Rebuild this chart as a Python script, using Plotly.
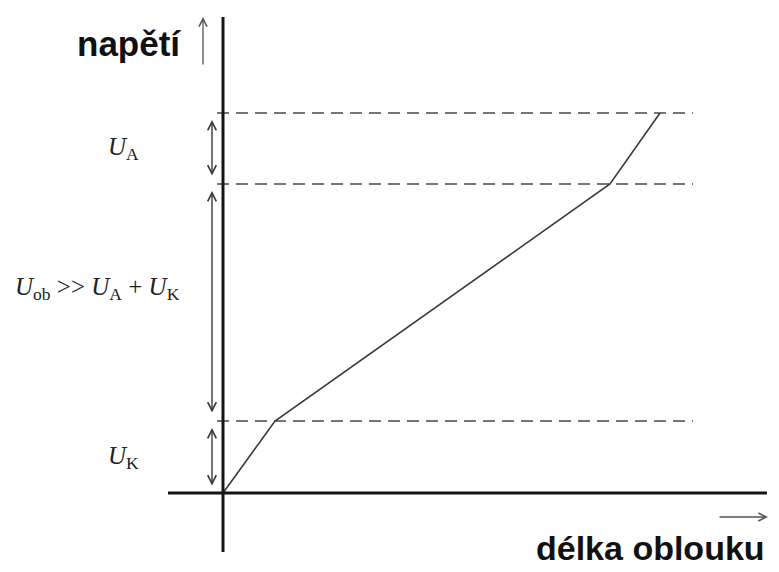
# Arc voltage vs. arc length sketch (napětí / délka oblouku)

import plotly.graph_objects as go

# Chart values, in drawing units (origin at the axis crossing)
arc_length = [0, 52, 387, 437]
voltage = [0, 72, 309, 380]
levels = [72, 309, 380]          # U_K, U_K + U_ob, U_K + U_ob + U_A
level_labels = [
    "<i>U</i><sub>K</sub>",
    "<i>U</i><sub>ob</sub> &gt;&gt; <i>U</i><sub>A</sub> + <i>U</i><sub>K</sub>",
    "<i>U</i><sub>A</sub>",
]
axis_titles = ["napětí", "délka oblouku"]

AXIS_COLOR = "#141414"
LINE_COLOR = "#3a3a3a"
SERIF = "Liberation Serif, Times New Roman, serif"
SANS = "Liberation Sans, Arial, sans-serif"

fig = go.Figure()

# Dashed reference levels
for lev in levels:
    fig.add_trace(go.Scatter(
        x=[-6, 470], y=[lev, lev], mode="lines",
        line=dict(color="#4a4a4a", width=1.6, dash="12px,7px"),
        hoverinfo="skip", showlegend=False,
    ))

# The characteristic
fig.add_trace(go.Scatter(
    x=arc_length, y=voltage, mode="lines",
    line=dict(color=LINE_COLOR, width=1.6),
    hoverinfo="skip", showlegend=False,
))

# Axes drawn as thick lines
fig.add_shape(type="line", x0=0, x1=0, y0=-59, y1=476,
              line=dict(color=AXIS_COLOR, width=3))
fig.add_shape(type="line", x0=-55, x1=544, y0=0, y1=0,
              line=dict(color=AXIS_COLOR, width=3))

# Double arrows between the levels
bounds = [0] + levels
label_pos = [(-117, 36), (-210, 205), (-117, 345)]
for i in range(3):
    lo, hi = bounds[i], bounds[i + 1]
    fig.add_annotation(
        x=-11, y=hi - 7, ax=-11, ay=lo + 6 if i == 0 else lo + 7,
        xref="x", yref="y", axref="x", ayref="y",
        showarrow=True, arrowside="end+start", arrowhead=5, arrowsize=1.2,
        arrowwidth=1.4, arrowcolor="#3a3a3a", text="",
    )
    lx, ly = label_pos[i]
    fig.add_annotation(
        x=lx, y=ly, xref="x", yref="y", text=level_labels[i],
        showarrow=False, xanchor="left", yanchor="middle",
        font=dict(family=SERIF, size=25, color="#222"),
    )

# Axis direction arrows
fig.add_annotation(x=-20, y=476, ax=-20, ay=427, xref="x", yref="y",
                   axref="x", ayref="y", showarrow=True, arrowhead=5,
                   arrowsize=1.2, arrowwidth=1.3, arrowcolor="#555", text="")
fig.add_annotation(x=545, y=-24, ax=495, ay=-24, xref="x", yref="y",
                   axref="x", ayref="y", showarrow=True, arrowhead=5,
                   arrowsize=1.2, arrowwidth=1.3, arrowcolor="#555", text="")

# Axis titles
fig.add_annotation(x=-40, y=450, xref="x", yref="y", text="<b>" + axis_titles[0] + "</b>",
                   showarrow=False, xanchor="right", yanchor="middle",
                   font=dict(family=SANS, size=35, color="#111"))
fig.add_annotation(x=544, y=-55, xref="x", yref="y", text="<b>" + axis_titles[1] + "</b>",
                   showarrow=False, xanchor="right", yanchor="middle",
                   font=dict(family=SANS, size=34, color="#111"))

# the page body adds an 8px margin, so the ranges are shifted to compensate
fig.update_xaxes(range=[-215, 564], visible=False)
fig.update_yaxes(range=[-87, 485], visible=False)
fig.update_layout(
    width=779, height=572,
    margin=dict(l=0, r=0, t=0, b=0),
    paper_bgcolor="white", plot_bgcolor="white",
)

fig.write_html("out.html")
